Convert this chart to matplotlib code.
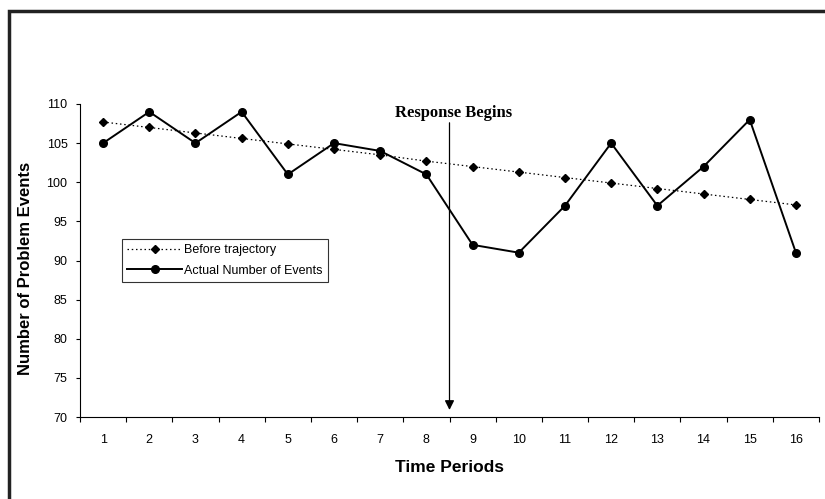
import matplotlib
matplotlib.use("Agg")
import matplotlib.pyplot as plt
from matplotlib.patches import Rectangle

periods = list(range(1, 17))
period_labels = [str(p) for p in periods]
actual = [105, 109, 105, 109, 101, 105, 104, 101, 92, 91, 97, 105, 97, 102, 108, 91]
before = [107.7, 107.0, 106.3, 105.6, 104.9, 104.2, 103.5, 102.7, 102.0, 101.3,
          100.6, 99.9, 99.2, 98.5, 97.8, 97.1]
y_ticks = [70, 75, 80, 85, 90, 95, 100, 105, 110]

W, H = 825, 499
fig = plt.figure(figsize=(W / 100, H / 100), dpi=100)
plt.rcParams['font.family'] = ['Liberation Sans', 'DejaVu Sans']

# Figure frame (only left and top edges visible in reference)
fig.patches.append(Rectangle((9 / W, -0.1), 1.2, 1 - 11 / H + 0.1,
                             transform=fig.transFigure, fill=False,
                             edgecolor='#222222', linewidth=2.5))

left, right = 80 / W, 819 / W
top_px, bot_px = 104, 417
ax = fig.add_axes([left, 1 - bot_px / H, right - left, (bot_px - top_px) / H])

x = [p for p in periods]
ax.plot(x, before, linestyle=(0, (1.2, 2.2)), color='black', linewidth=0.9,
        marker='D', markersize=4.5, label='Before trajectory')
ax.plot(x, actual, linestyle='-', color='black', linewidth=1.4,
        marker='o', markersize=5.5, label='Actual Number of Events')

ax.set_xlim(0.5, 16.5)
ax.set_ylim(70, 110)
ax.set_yticks(y_ticks)
ax.set_yticklabels([str(v) for v in y_ticks], fontsize=9)
ax.set_xticks(x)
ax.set_xticklabels(period_labels, fontsize=9)
ax.tick_params(axis='x', which='major', length=0, pad=12)
ax.set_xticks([p + 0.5 for p in [0] + periods], minor=True)
ax.tick_params(axis='x', which='minor', length=3.5, direction='out', width=0.8)
ax.tick_params(axis='y', length=3, width=0.8, pad=6)

for s in ['top', 'right']:
    ax.spines[s].set_visible(False)
ax.spines['left'].set_linewidth(0.8)
ax.spines['bottom'].set_linewidth(0.8)

ax.set_ylabel('Number of Problem Events', fontsize=12, fontweight='bold')
ax.yaxis.set_label_coords(-(80 - 33) / (819 - 80), (417 - 268) / (417 - 104))
ax.set_xlabel('Time Periods', fontsize=12.5, fontweight='bold', labelpad=10)

# Response begins annotation
ax.annotate('', xy=(8.5, 70.9), xytext=(8.5, 107.6),
            arrowprops=dict(arrowstyle='-|>', color='black', lw=0.9,
                            mutation_scale=14, shrinkA=0, shrinkB=0))
ax.text(8.58, 108.4, 'Response Begins', ha='center', va='baseline',
        fontsize=12, fontweight='bold', family=['Liberation Serif', 'DejaVu Serif'])

leg = ax.legend(loc='upper left', bbox_to_anchor=((122 - 80) / (819 - 80), (417 - 239) / (417 - 104)),
                fontsize=9, frameon=True, fancybox=False, edgecolor='black',
                borderpad=0.4, handlelength=4.4, labelspacing=0.7, handletextpad=0.2,
                borderaxespad=0)
leg.get_frame().set_linewidth(0.8)

fig.savefig('out.png', dpi=100)
